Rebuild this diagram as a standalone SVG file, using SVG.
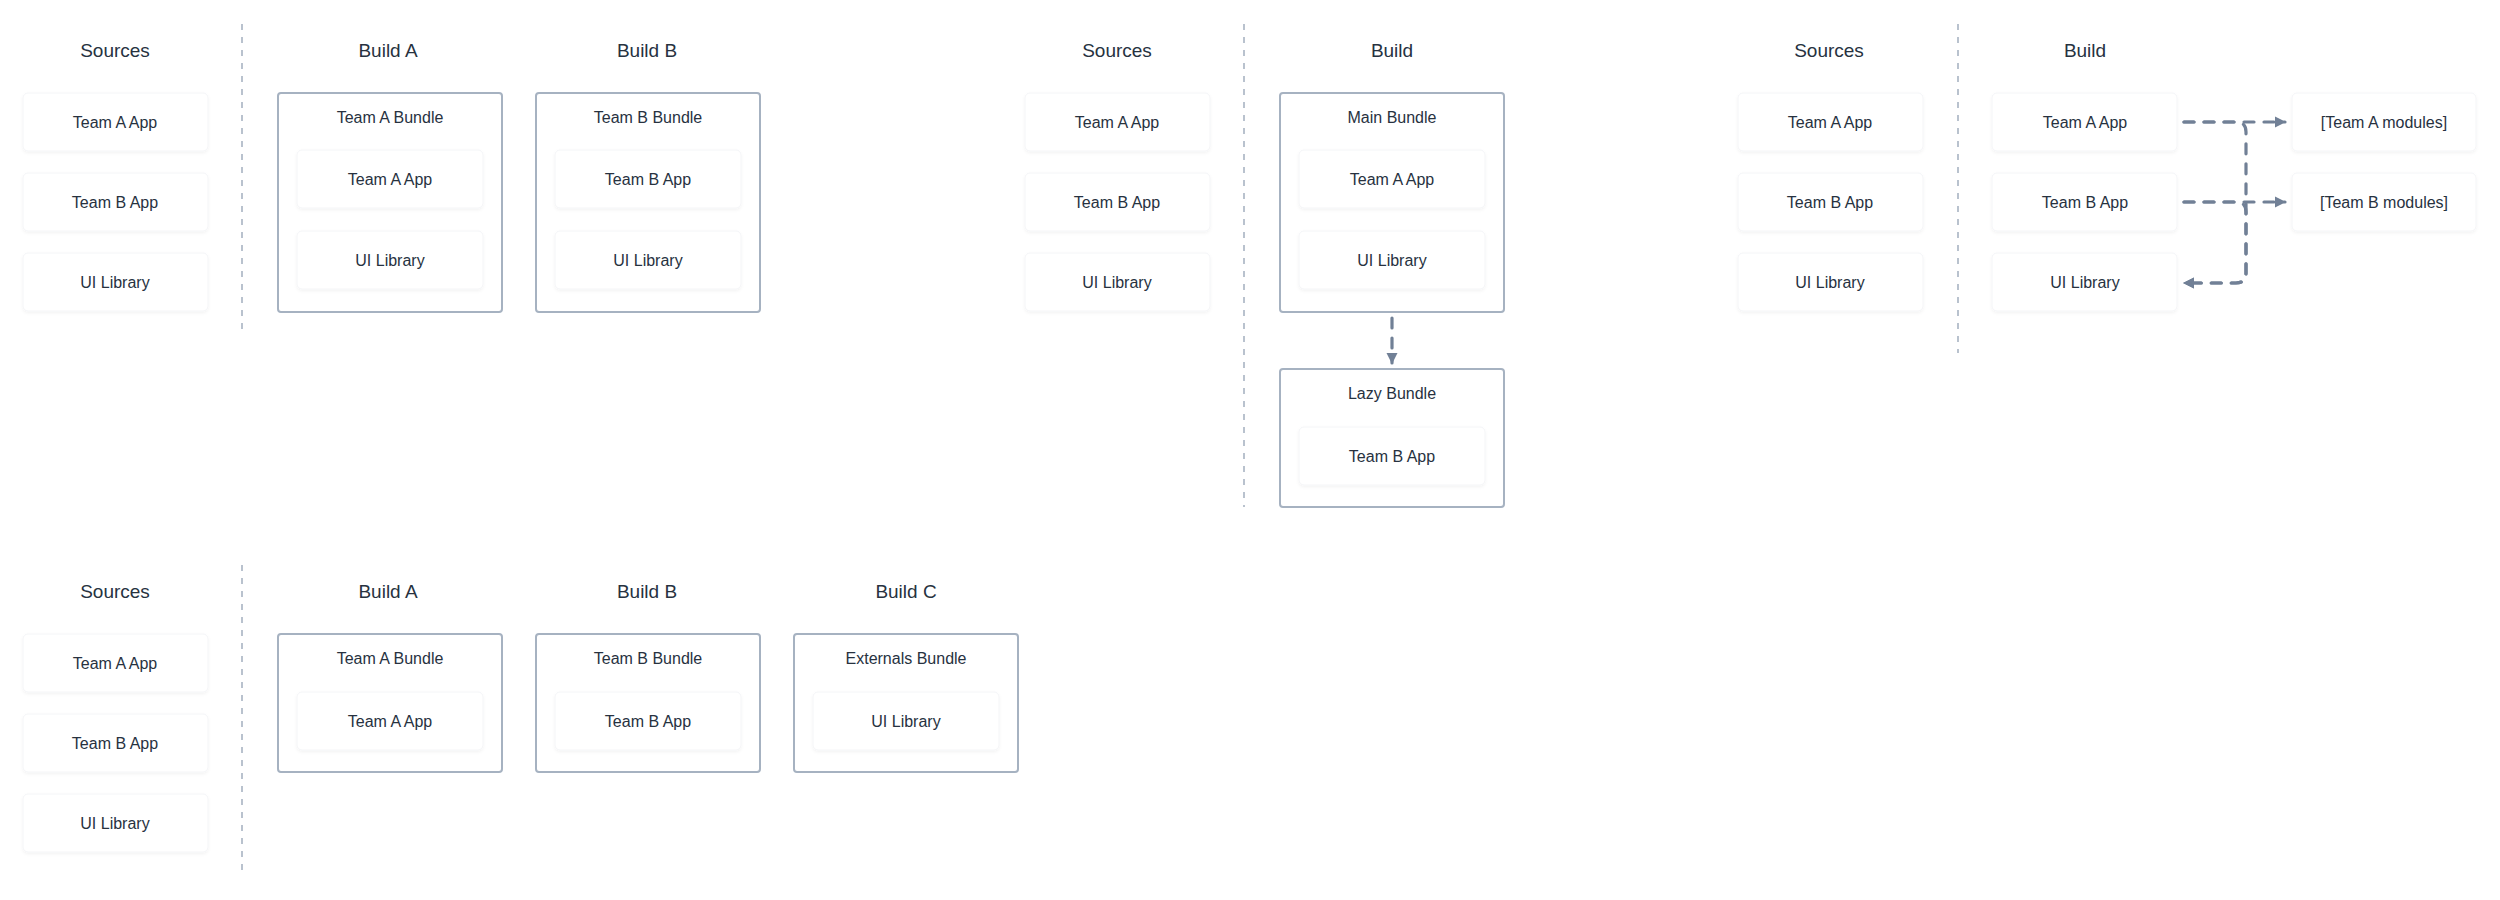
<svg xmlns="http://www.w3.org/2000/svg" width="2500" height="900" viewBox="0 0 2500 900">
<defs>
<style>
text{font-family:"Liberation Sans",Arial,sans-serif;fill:#27323f;text-anchor:middle}
.title{font-size:19px}
.lbl{font-size:16px}
.src{fill:#ffffff;stroke:#f4f5f7;stroke-width:1;filter:url(#sh)}
.bundle{fill:#ffffff;stroke:#a6b2c1;stroke-width:2}
.div{stroke:#a3afbf;stroke-width:1.5;stroke-dasharray:6 7;fill:none}
.conn{stroke:#718096;stroke-width:3.2;fill:none;stroke-dasharray:10 10;stroke-linecap:round;marker-end:url(#arr)}
</style>
<filter id="sh" x="-10%" y="-20%" width="120%" height="150%">
<feDropShadow dx="0" dy="1.5" stdDeviation="1.5" flood-color="#000" flood-opacity="0.05"/>
</filter>
<marker id="arr" markerUnits="userSpaceOnUse" markerWidth="12" markerHeight="12" refX="10" refY="6" orient="auto">
<path d="M0,0.5 L11,6 L0,11.5 z" fill="#718096"/>
</marker>
</defs>
<rect width="2500" height="900" fill="#ffffff"/>

<!-- Panel 1 -->
<g id="p1-dividers"><line class="div" x1="242" y1="24" x2="242" y2="335"/></g>
<g id="p1-sources-title"><text class="title" x="115" y="57">Sources</text></g>
<g id="p1-src-a"><rect class="src" x="23" y="93" width="185" height="58" rx="5"/><text class="lbl" x="115" y="128">Team A App</text></g>
<g id="p1-src-b"><rect class="src" x="23" y="173" width="185" height="58" rx="5"/><text class="lbl" x="115" y="208">Team B App</text></g>
<g id="p1-src-ui"><rect class="src" x="23" y="253" width="185" height="58" rx="5"/><text class="lbl" x="115" y="288">UI Library</text></g>
<g id="p1-builda-title"><text class="title" x="388" y="57">Build A</text></g>
<g id="p1-bundle-a"><rect class="bundle" x="278" y="93" width="224" height="219" rx="3"/><text class="lbl" x="390" y="123">Team A Bundle</text></g>
<g id="p1-bundle-a-app"><rect class="src" x="297" y="150" width="186" height="58" rx="5"/><text class="lbl" x="390" y="185">Team A App</text></g>
<g id="p1-bundle-a-ui"><rect class="src" x="297" y="231" width="186" height="58" rx="5"/><text class="lbl" x="390" y="266">UI Library</text></g>
<g id="p1-buildb-title"><text class="title" x="647" y="57">Build B</text></g>
<g id="p1-bundle-b"><rect class="bundle" x="536" y="93" width="224" height="219" rx="3"/><text class="lbl" x="648" y="123">Team B Bundle</text></g>
<g id="p1-bundle-b-app"><rect class="src" x="555" y="150" width="186" height="58" rx="5"/><text class="lbl" x="648" y="185">Team B App</text></g>
<g id="p1-bundle-b-ui"><rect class="src" x="555" y="231" width="186" height="58" rx="5"/><text class="lbl" x="648" y="266">UI Library</text></g>

<!-- Panel 2 -->
<g id="p2-dividers"><line class="div" x1="1244" y1="24" x2="1244" y2="507"/></g>
<g id="p2-sources-title"><text class="title" x="1117" y="57">Sources</text></g>
<g id="p2-src-a"><rect class="src" x="1025" y="93" width="185" height="58" rx="5"/><text class="lbl" x="1117" y="128">Team A App</text></g>
<g id="p2-src-b"><rect class="src" x="1025" y="173" width="185" height="58" rx="5"/><text class="lbl" x="1117" y="208">Team B App</text></g>
<g id="p2-src-ui"><rect class="src" x="1025" y="253" width="185" height="58" rx="5"/><text class="lbl" x="1117" y="288">UI Library</text></g>
<g id="p2-build-title"><text class="title" x="1392" y="57">Build</text></g>
<g id="p2-main-bundle"><rect class="bundle" x="1280" y="93" width="224" height="219" rx="3"/><text class="lbl" x="1392" y="123">Main Bundle</text></g>
<g id="p2-main-app"><rect class="src" x="1299" y="150" width="186" height="58" rx="5"/><text class="lbl" x="1392" y="185">Team A App</text></g>
<g id="p2-main-ui"><rect class="src" x="1299" y="231" width="186" height="58" rx="5"/><text class="lbl" x="1392" y="266">UI Library</text></g>
<g id="p2-lazy-bundle"><rect class="bundle" x="1280" y="369" width="224" height="138" rx="3"/><text class="lbl" x="1392" y="399">Lazy Bundle</text></g>
<g id="p2-lazy-app"><rect class="src" x="1299" y="427" width="186" height="58" rx="5"/><text class="lbl" x="1392" y="462">Team B App</text></g>

<!-- Panel 3 -->
<g id="p3-dividers"><line class="div" x1="1958" y1="24" x2="1958" y2="353"/></g>
<g id="p3-sources-title"><text class="title" x="1829" y="57">Sources</text></g>
<g id="p3-src-a"><rect class="src" x="1738" y="93" width="185" height="58" rx="5"/><text class="lbl" x="1830" y="128">Team A App</text></g>
<g id="p3-src-b"><rect class="src" x="1738" y="173" width="185" height="58" rx="5"/><text class="lbl" x="1830" y="208">Team B App</text></g>
<g id="p3-src-ui"><rect class="src" x="1738" y="253" width="185" height="58" rx="5"/><text class="lbl" x="1830" y="288">UI Library</text></g>
<g id="p3-build-title"><text class="title" x="2085" y="57">Build</text></g>
<g id="p3-build-a"><rect class="src" x="1992" y="93" width="185" height="58" rx="5"/><text class="lbl" x="2085" y="128">Team A App</text></g>
<g id="p3-build-b"><rect class="src" x="1992" y="173" width="185" height="58" rx="5"/><text class="lbl" x="2085" y="208">Team B App</text></g>
<g id="p3-build-ui"><rect class="src" x="1992" y="253" width="185" height="58" rx="5"/><text class="lbl" x="2085" y="288">UI Library</text></g>
<g id="p3-mod-a"><rect class="src" x="2292" y="93" width="184" height="58" rx="5"/><text class="lbl" x="2384" y="128">[Team A modules]</text></g>
<g id="p3-mod-b"><rect class="src" x="2292" y="173" width="184" height="58" rx="5"/><text class="lbl" x="2384" y="208">[Team B modules]</text></g>

<!-- Panel 4 -->
<g id="p4-dividers"><line class="div" x1="242" y1="565" x2="242" y2="876"/></g>
<g id="p4-sources-title"><text class="title" x="115" y="598">Sources</text></g>
<g id="p4-src-a"><rect class="src" x="23" y="634" width="185" height="58" rx="5"/><text class="lbl" x="115" y="669">Team A App</text></g>
<g id="p4-src-b"><rect class="src" x="23" y="714" width="185" height="58" rx="5"/><text class="lbl" x="115" y="749">Team B App</text></g>
<g id="p4-src-ui"><rect class="src" x="23" y="794" width="185" height="58" rx="5"/><text class="lbl" x="115" y="829">UI Library</text></g>
<g id="p4-builda-title"><text class="title" x="388" y="598">Build A</text></g>
<g id="p4-bundle-a"><rect class="bundle" x="278" y="634" width="224" height="138" rx="3"/><text class="lbl" x="390" y="664">Team A Bundle</text></g>
<g id="p4-bundle-a-app"><rect class="src" x="297" y="692" width="186" height="58" rx="5"/><text class="lbl" x="390" y="727">Team A App</text></g>
<g id="p4-buildb-title"><text class="title" x="647" y="598">Build B</text></g>
<g id="p4-bundle-b"><rect class="bundle" x="536" y="634" width="224" height="138" rx="3"/><text class="lbl" x="648" y="664">Team B Bundle</text></g>
<g id="p4-bundle-b-app"><rect class="src" x="555" y="692" width="186" height="58" rx="5"/><text class="lbl" x="648" y="727">Team B App</text></g>
<g id="p4-buildc-title"><text class="title" x="906" y="598">Build C</text></g>
<g id="p4-bundle-c"><rect class="bundle" x="794" y="634" width="224" height="138" rx="3"/><text class="lbl" x="906" y="664">Externals Bundle</text></g>
<g id="p4-bundle-c-ui"><rect class="src" x="813" y="692" width="186" height="58" rx="5"/><text class="lbl" x="906" y="727">UI Library</text></g>

<!-- Connectors -->
<g id="connectors">
<path class="conn" d="M1392,318 V363"/>
<path class="conn" d="M2184,122 H2285"/>
<path class="conn" d="M2184,202 H2285"/>
<path class="conn" d="M2184,122 H2236 Q2246,122 2246,132 V273 Q2246,283 2236,283 H2184"/>
<path class="conn" d="M2184,202 H2236 Q2246,202 2246,212 V273 Q2246,283 2236,283 H2184"/>
</g>
</svg>
